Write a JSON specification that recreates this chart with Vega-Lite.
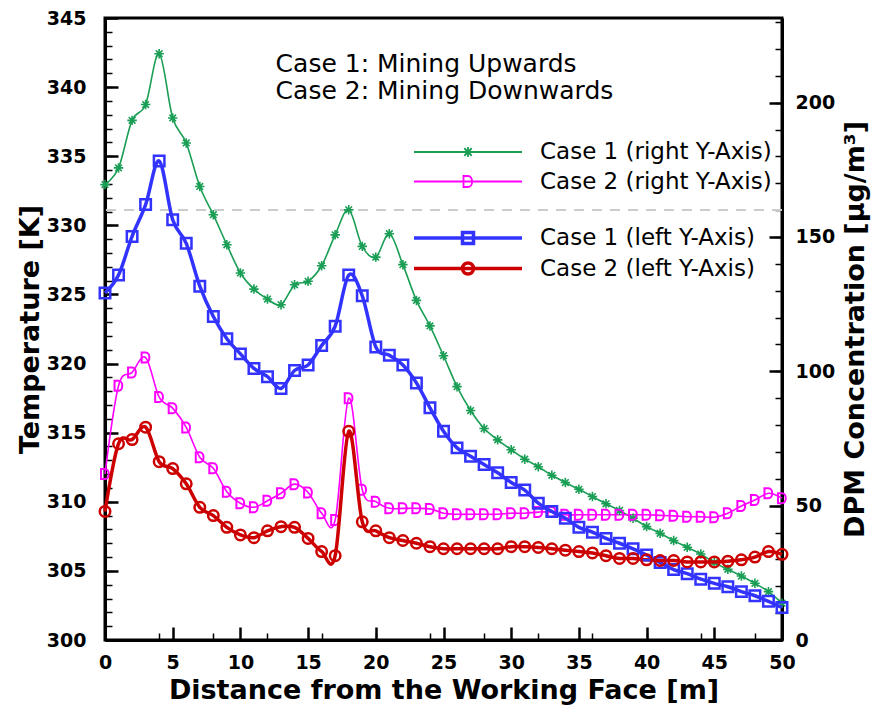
{
  "$schema": "https://vega.github.io/schema/vega-lite/v6.json",
  "width": 677,
  "height": 622,
  "autosize": "none",
  "padding": {"left": 105, "top": 18, "right": 94, "bottom": 69},
  "background": "white",
  "config": {
    "view": {"stroke": "black", "strokeWidth": 3},
    "font": "DejaVu Sans",
    "axis": {
      "grid": false,
      "domainColor": "black",
      "domainWidth": 3,
      "ticks": true,
      "tickColor": "black",
      "labelColor": "black",
      "titleColor": "black",
      "labelFont": "DejaVu Sans",
      "labelFontWeight": "bold",
      "labelFontSize": 19,
      "labelOverlap": false,
      "titleFont": "DejaVu Sans",
      "titleFontWeight": "bold",
      "titleFontSize": 27
    }
  },
  "datasets": {
    "right": [
      {"d": 0, "v": 169.5, "s": "Case 1 (right Y-Axis)"},
      {"d": 1, "v": 175.7, "s": "Case 1 (right Y-Axis)"},
      {"d": 2, "v": 193.4, "s": "Case 1 (right Y-Axis)"},
      {"d": 3, "v": 199.3, "s": "Case 1 (right Y-Axis)"},
      {"d": 4, "v": 218.2, "s": "Case 1 (right Y-Axis)"},
      {"d": 5, "v": 194.3, "s": "Case 1 (right Y-Axis)"},
      {"d": 6, "v": 185.0, "s": "Case 1 (right Y-Axis)"},
      {"d": 7, "v": 168.8, "s": "Case 1 (right Y-Axis)"},
      {"d": 8, "v": 158.3, "s": "Case 1 (right Y-Axis)"},
      {"d": 9, "v": 147.1, "s": "Case 1 (right Y-Axis)"},
      {"d": 10, "v": 136.6, "s": "Case 1 (right Y-Axis)"},
      {"d": 11, "v": 130.6, "s": "Case 1 (right Y-Axis)"},
      {"d": 12, "v": 126.9, "s": "Case 1 (right Y-Axis)"},
      {"d": 13, "v": 124.8, "s": "Case 1 (right Y-Axis)"},
      {"d": 14, "v": 132.2, "s": "Case 1 (right Y-Axis)"},
      {"d": 15, "v": 133.5, "s": "Case 1 (right Y-Axis)"},
      {"d": 16, "v": 139.3, "s": "Case 1 (right Y-Axis)"},
      {"d": 17, "v": 150.8, "s": "Case 1 (right Y-Axis)"},
      {"d": 18, "v": 160.1, "s": "Case 1 (right Y-Axis)"},
      {"d": 19, "v": 146.5, "s": "Case 1 (right Y-Axis)"},
      {"d": 20, "v": 142.5, "s": "Case 1 (right Y-Axis)"},
      {"d": 21, "v": 151.2, "s": "Case 1 (right Y-Axis)"},
      {"d": 22, "v": 139.7, "s": "Case 1 (right Y-Axis)"},
      {"d": 23, "v": 126.4, "s": "Case 1 (right Y-Axis)"},
      {"d": 24, "v": 116.9, "s": "Case 1 (right Y-Axis)"},
      {"d": 25, "v": 105.8, "s": "Case 1 (right Y-Axis)"},
      {"d": 26, "v": 94.3, "s": "Case 1 (right Y-Axis)"},
      {"d": 27, "v": 85.4, "s": "Case 1 (right Y-Axis)"},
      {"d": 28, "v": 78.7, "s": "Case 1 (right Y-Axis)"},
      {"d": 29, "v": 74.5, "s": "Case 1 (right Y-Axis)"},
      {"d": 30, "v": 70.8, "s": "Case 1 (right Y-Axis)"},
      {"d": 31, "v": 67.3, "s": "Case 1 (right Y-Axis)"},
      {"d": 32, "v": 64.5, "s": "Case 1 (right Y-Axis)"},
      {"d": 33, "v": 61.3, "s": "Case 1 (right Y-Axis)"},
      {"d": 34, "v": 58.6, "s": "Case 1 (right Y-Axis)"},
      {"d": 35, "v": 56.1, "s": "Case 1 (right Y-Axis)"},
      {"d": 36, "v": 53.4, "s": "Case 1 (right Y-Axis)"},
      {"d": 37, "v": 50.7, "s": "Case 1 (right Y-Axis)"},
      {"d": 38, "v": 48.2, "s": "Case 1 (right Y-Axis)"},
      {"d": 39, "v": 45.3, "s": "Case 1 (right Y-Axis)"},
      {"d": 40, "v": 42.2, "s": "Case 1 (right Y-Axis)"},
      {"d": 41, "v": 39.7, "s": "Case 1 (right Y-Axis)"},
      {"d": 42, "v": 37.0, "s": "Case 1 (right Y-Axis)"},
      {"d": 43, "v": 34.5, "s": "Case 1 (right Y-Axis)"},
      {"d": 44, "v": 32.0, "s": "Case 1 (right Y-Axis)"},
      {"d": 45, "v": 28.8, "s": "Case 1 (right Y-Axis)"},
      {"d": 46, "v": 26.3, "s": "Case 1 (right Y-Axis)"},
      {"d": 47, "v": 23.8, "s": "Case 1 (right Y-Axis)"},
      {"d": 48, "v": 21.1, "s": "Case 1 (right Y-Axis)"},
      {"d": 49, "v": 18.0, "s": "Case 1 (right Y-Axis)"},
      {"d": 50, "v": 13.7, "s": "Case 1 (right Y-Axis)"},
      {"d": 0, "v": 61.8, "s": "Case 2 (right Y-Axis)"},
      {"d": 1, "v": 94.6, "s": "Case 2 (right Y-Axis)"},
      {"d": 2, "v": 99.6, "s": "Case 2 (right Y-Axis)"},
      {"d": 3, "v": 105.1, "s": "Case 2 (right Y-Axis)"},
      {"d": 4, "v": 90.4, "s": "Case 2 (right Y-Axis)"},
      {"d": 5, "v": 86.3, "s": "Case 2 (right Y-Axis)"},
      {"d": 6, "v": 79.1, "s": "Case 2 (right Y-Axis)"},
      {"d": 7, "v": 68.0, "s": "Case 2 (right Y-Axis)"},
      {"d": 8, "v": 63.9, "s": "Case 2 (right Y-Axis)"},
      {"d": 9, "v": 55.2, "s": "Case 2 (right Y-Axis)"},
      {"d": 10, "v": 50.9, "s": "Case 2 (right Y-Axis)"},
      {"d": 11, "v": 49.4, "s": "Case 2 (right Y-Axis)"},
      {"d": 12, "v": 51.8, "s": "Case 2 (right Y-Axis)"},
      {"d": 13, "v": 54.6, "s": "Case 2 (right Y-Axis)"},
      {"d": 14, "v": 58.0, "s": "Case 2 (right Y-Axis)"},
      {"d": 15, "v": 54.9, "s": "Case 2 (right Y-Axis)"},
      {"d": 16, "v": 47.2, "s": "Case 2 (right Y-Axis)"},
      {"d": 17, "v": 44.7, "s": "Case 2 (right Y-Axis)"},
      {"d": 18, "v": 90.0, "s": "Case 2 (right Y-Axis)"},
      {"d": 19, "v": 55.9, "s": "Case 2 (right Y-Axis)"},
      {"d": 20, "v": 51.5, "s": "Case 2 (right Y-Axis)"},
      {"d": 21, "v": 49.0, "s": "Case 2 (right Y-Axis)"},
      {"d": 22, "v": 49.0, "s": "Case 2 (right Y-Axis)"},
      {"d": 23, "v": 49.0, "s": "Case 2 (right Y-Axis)"},
      {"d": 24, "v": 48.8, "s": "Case 2 (right Y-Axis)"},
      {"d": 25, "v": 47.2, "s": "Case 2 (right Y-Axis)"},
      {"d": 26, "v": 46.8, "s": "Case 2 (right Y-Axis)"},
      {"d": 27, "v": 46.8, "s": "Case 2 (right Y-Axis)"},
      {"d": 28, "v": 46.8, "s": "Case 2 (right Y-Axis)"},
      {"d": 29, "v": 46.8, "s": "Case 2 (right Y-Axis)"},
      {"d": 30, "v": 47.2, "s": "Case 2 (right Y-Axis)"},
      {"d": 31, "v": 47.2, "s": "Case 2 (right Y-Axis)"},
      {"d": 32, "v": 47.6, "s": "Case 2 (right Y-Axis)"},
      {"d": 33, "v": 47.6, "s": "Case 2 (right Y-Axis)"},
      {"d": 34, "v": 46.6, "s": "Case 2 (right Y-Axis)"},
      {"d": 35, "v": 46.6, "s": "Case 2 (right Y-Axis)"},
      {"d": 36, "v": 46.6, "s": "Case 2 (right Y-Axis)"},
      {"d": 37, "v": 46.6, "s": "Case 2 (right Y-Axis)"},
      {"d": 38, "v": 46.6, "s": "Case 2 (right Y-Axis)"},
      {"d": 39, "v": 46.6, "s": "Case 2 (right Y-Axis)"},
      {"d": 40, "v": 46.6, "s": "Case 2 (right Y-Axis)"},
      {"d": 41, "v": 46.4, "s": "Case 2 (right Y-Axis)"},
      {"d": 42, "v": 46.2, "s": "Case 2 (right Y-Axis)"},
      {"d": 43, "v": 45.9, "s": "Case 2 (right Y-Axis)"},
      {"d": 44, "v": 45.9, "s": "Case 2 (right Y-Axis)"},
      {"d": 45, "v": 45.7, "s": "Case 2 (right Y-Axis)"},
      {"d": 46, "v": 47.2, "s": "Case 2 (right Y-Axis)"},
      {"d": 47, "v": 49.9, "s": "Case 2 (right Y-Axis)"},
      {"d": 48, "v": 52.1, "s": "Case 2 (right Y-Axis)"},
      {"d": 49, "v": 54.6, "s": "Case 2 (right Y-Axis)"},
      {"d": 50, "v": 52.8, "s": "Case 2 (right Y-Axis)"}
    ],
    "left": [
      {"d": 0, "t": 325.1, "s": "Case 1 (left Y-Axis)"},
      {"d": 1, "t": 326.4, "s": "Case 1 (left Y-Axis)"},
      {"d": 2, "t": 329.2, "s": "Case 1 (left Y-Axis)"},
      {"d": 3, "t": 331.5, "s": "Case 1 (left Y-Axis)"},
      {"d": 4, "t": 334.65, "s": "Case 1 (left Y-Axis)"},
      {"d": 5, "t": 330.4, "s": "Case 1 (left Y-Axis)"},
      {"d": 6, "t": 328.7, "s": "Case 1 (left Y-Axis)"},
      {"d": 7, "t": 325.6, "s": "Case 1 (left Y-Axis)"},
      {"d": 8, "t": 323.4, "s": "Case 1 (left Y-Axis)"},
      {"d": 9, "t": 321.8, "s": "Case 1 (left Y-Axis)"},
      {"d": 10, "t": 320.7, "s": "Case 1 (left Y-Axis)"},
      {"d": 11, "t": 319.65, "s": "Case 1 (left Y-Axis)"},
      {"d": 12, "t": 319.05, "s": "Case 1 (left Y-Axis)"},
      {"d": 13, "t": 318.2, "s": "Case 1 (left Y-Axis)"},
      {"d": 14, "t": 319.5, "s": "Case 1 (left Y-Axis)"},
      {"d": 15, "t": 319.9, "s": "Case 1 (left Y-Axis)"},
      {"d": 16, "t": 321.3, "s": "Case 1 (left Y-Axis)"},
      {"d": 17, "t": 322.7, "s": "Case 1 (left Y-Axis)"},
      {"d": 18, "t": 326.4, "s": "Case 1 (left Y-Axis)"},
      {"d": 19, "t": 324.9, "s": "Case 1 (left Y-Axis)"},
      {"d": 20, "t": 321.2, "s": "Case 1 (left Y-Axis)"},
      {"d": 21, "t": 320.6, "s": "Case 1 (left Y-Axis)"},
      {"d": 22, "t": 319.9, "s": "Case 1 (left Y-Axis)"},
      {"d": 23, "t": 318.6, "s": "Case 1 (left Y-Axis)"},
      {"d": 24, "t": 316.8, "s": "Case 1 (left Y-Axis)"},
      {"d": 25, "t": 315.1, "s": "Case 1 (left Y-Axis)"},
      {"d": 26, "t": 313.9, "s": "Case 1 (left Y-Axis)"},
      {"d": 27, "t": 313.3, "s": "Case 1 (left Y-Axis)"},
      {"d": 28, "t": 312.7, "s": "Case 1 (left Y-Axis)"},
      {"d": 29, "t": 312.1, "s": "Case 1 (left Y-Axis)"},
      {"d": 30, "t": 311.4, "s": "Case 1 (left Y-Axis)"},
      {"d": 31, "t": 310.85, "s": "Case 1 (left Y-Axis)"},
      {"d": 32, "t": 309.9, "s": "Case 1 (left Y-Axis)"},
      {"d": 33, "t": 309.3, "s": "Case 1 (left Y-Axis)"},
      {"d": 34, "t": 308.8, "s": "Case 1 (left Y-Axis)"},
      {"d": 35, "t": 308.15, "s": "Case 1 (left Y-Axis)"},
      {"d": 36, "t": 307.8, "s": "Case 1 (left Y-Axis)"},
      {"d": 37, "t": 307.35, "s": "Case 1 (left Y-Axis)"},
      {"d": 38, "t": 307.0, "s": "Case 1 (left Y-Axis)"},
      {"d": 39, "t": 306.6, "s": "Case 1 (left Y-Axis)"},
      {"d": 40, "t": 306.15, "s": "Case 1 (left Y-Axis)"},
      {"d": 41, "t": 305.6, "s": "Case 1 (left Y-Axis)"},
      {"d": 42, "t": 305.1, "s": "Case 1 (left Y-Axis)"},
      {"d": 43, "t": 304.8, "s": "Case 1 (left Y-Axis)"},
      {"d": 44, "t": 304.4, "s": "Case 1 (left Y-Axis)"},
      {"d": 45, "t": 304.1, "s": "Case 1 (left Y-Axis)"},
      {"d": 46, "t": 303.85, "s": "Case 1 (left Y-Axis)"},
      {"d": 47, "t": 303.5, "s": "Case 1 (left Y-Axis)"},
      {"d": 48, "t": 303.2, "s": "Case 1 (left Y-Axis)"},
      {"d": 49, "t": 302.8, "s": "Case 1 (left Y-Axis)"},
      {"d": 50, "t": 302.35, "s": "Case 1 (left Y-Axis)"},
      {"d": 0, "t": 309.3, "s": "Case 2 (left Y-Axis)"},
      {"d": 1, "t": 314.2, "s": "Case 2 (left Y-Axis)"},
      {"d": 2, "t": 314.5, "s": "Case 2 (left Y-Axis)"},
      {"d": 3, "t": 315.4, "s": "Case 2 (left Y-Axis)"},
      {"d": 4, "t": 312.9, "s": "Case 2 (left Y-Axis)"},
      {"d": 5, "t": 312.4, "s": "Case 2 (left Y-Axis)"},
      {"d": 6, "t": 311.3, "s": "Case 2 (left Y-Axis)"},
      {"d": 7, "t": 309.6, "s": "Case 2 (left Y-Axis)"},
      {"d": 8, "t": 309.0, "s": "Case 2 (left Y-Axis)"},
      {"d": 9, "t": 308.15, "s": "Case 2 (left Y-Axis)"},
      {"d": 10, "t": 307.6, "s": "Case 2 (left Y-Axis)"},
      {"d": 11, "t": 307.4, "s": "Case 2 (left Y-Axis)"},
      {"d": 12, "t": 307.9, "s": "Case 2 (left Y-Axis)"},
      {"d": 13, "t": 308.2, "s": "Case 2 (left Y-Axis)"},
      {"d": 14, "t": 308.15, "s": "Case 2 (left Y-Axis)"},
      {"d": 15, "t": 307.35, "s": "Case 2 (left Y-Axis)"},
      {"d": 16, "t": 306.4, "s": "Case 2 (left Y-Axis)"},
      {"d": 17, "t": 306.1, "s": "Case 2 (left Y-Axis)"},
      {"d": 18, "t": 315.1, "s": "Case 2 (left Y-Axis)"},
      {"d": 19, "t": 308.55, "s": "Case 2 (left Y-Axis)"},
      {"d": 20, "t": 307.9, "s": "Case 2 (left Y-Axis)"},
      {"d": 21, "t": 307.4, "s": "Case 2 (left Y-Axis)"},
      {"d": 22, "t": 307.2, "s": "Case 2 (left Y-Axis)"},
      {"d": 23, "t": 307.0, "s": "Case 2 (left Y-Axis)"},
      {"d": 24, "t": 306.75, "s": "Case 2 (left Y-Axis)"},
      {"d": 25, "t": 306.6, "s": "Case 2 (left Y-Axis)"},
      {"d": 26, "t": 306.6, "s": "Case 2 (left Y-Axis)"},
      {"d": 27, "t": 306.6, "s": "Case 2 (left Y-Axis)"},
      {"d": 28, "t": 306.6, "s": "Case 2 (left Y-Axis)"},
      {"d": 29, "t": 306.6, "s": "Case 2 (left Y-Axis)"},
      {"d": 30, "t": 306.75, "s": "Case 2 (left Y-Axis)"},
      {"d": 31, "t": 306.75, "s": "Case 2 (left Y-Axis)"},
      {"d": 32, "t": 306.7, "s": "Case 2 (left Y-Axis)"},
      {"d": 33, "t": 306.6, "s": "Case 2 (left Y-Axis)"},
      {"d": 34, "t": 306.5, "s": "Case 2 (left Y-Axis)"},
      {"d": 35, "t": 306.4, "s": "Case 2 (left Y-Axis)"},
      {"d": 36, "t": 306.3, "s": "Case 2 (left Y-Axis)"},
      {"d": 37, "t": 306.1, "s": "Case 2 (left Y-Axis)"},
      {"d": 38, "t": 305.9, "s": "Case 2 (left Y-Axis)"},
      {"d": 39, "t": 305.9, "s": "Case 2 (left Y-Axis)"},
      {"d": 40, "t": 305.8, "s": "Case 2 (left Y-Axis)"},
      {"d": 41, "t": 305.75, "s": "Case 2 (left Y-Axis)"},
      {"d": 42, "t": 305.75, "s": "Case 2 (left Y-Axis)"},
      {"d": 43, "t": 305.65, "s": "Case 2 (left Y-Axis)"},
      {"d": 44, "t": 305.65, "s": "Case 2 (left Y-Axis)"},
      {"d": 45, "t": 305.65, "s": "Case 2 (left Y-Axis)"},
      {"d": 46, "t": 305.7, "s": "Case 2 (left Y-Axis)"},
      {"d": 47, "t": 305.8, "s": "Case 2 (left Y-Axis)"},
      {"d": 48, "t": 306.0, "s": "Case 2 (left Y-Axis)"},
      {"d": 49, "t": 306.4, "s": "Case 2 (left Y-Axis)"},
      {"d": 50, "t": 306.2, "s": "Case 2 (left Y-Axis)"}
    ],
    "notes": [
      {"d": 12.6, "t": 341.65, "label": "Case 1: Mining Upwards"},
      {"d": 12.6, "t": 339.75, "label": "Case 2: Mining Downwards"}
    ]
  },
  "resolve": {"scale": {"y": "independent", "color": "independent"}, "axis": {"x": "independent"}},
  "layer": [
    {
      "resolve": {"axis": {"y": "independent"}},
      "layer": [
        {
          "data": {"values": [{"limit": 160}]},
          "mark": {"type": "rule", "color": "#cccccc", "strokeWidth": 2, "strokeDash": [10, 8]},
          "encoding": {"y": {"field": "limit", "type": "quantitative", "scale": {"domain": [0, 231.5], "nice": false}, "axis": null}}
        },
        {
          "data": {"name": "right"},
          "mark": {"type": "line", "interpolate": "cardinal", "tension": 0, "strokeWidth": 1.6},
          "encoding": {
            "x": {"field": "d", "type": "quantitative", "scale": {"domain": [0, 50], "nice": false, "zero": false},
              "axis": {"orient": "bottom", "values": [0,1,2,3,4,5,6,7,8,9,10,11,12,13,14,15,16,17,18,19,20,21,22,23,24,25,26,27,28,29,30,31,32,33,34,35,36,37,38,39,40,41,42,43,44,45,46,47,48,49,50],
                "tickSize": -7, "tickWidth": 1.5, "labels": false, "domain": false, "title": null}},
            "y": {"field": "v", "type": "quantitative", "title": "DPM Concentration [µg/m³]",
              "axis": {"orient": "right", "values": [0, 50, 100, 150, 200],
                "tickSize": -13, "tickWidth": 2.5, "labelOverlap": false,
                "labelPadding": 26, "titleX": 73, "titleAngle": 270, "titleBaseline": "middle"}},
            "color": {"field": "s", "type": "nominal",
              "scale": {"domain": ["Case 1 (right Y-Axis)", "Case 2 (right Y-Axis)"], "range": ["#1a9e55", "#ff00ff"]},
              "legend": {
                "title": null, "orient": "none", "legendX": 351.5, "legendY": 122.5, "padding": 0,
                "rowPadding": 5.5, "labelOffset": 60.5, "symbolOffset": 0,
                "labelFont": "DejaVu Sans", "labelFontSize": 23, "labelColor": "black", "labelLimit": 400,
                "symbolSize": 100, "symbolStrokeWidth": 1.6,
                "encode": {"symbols": {"update": {
                  "shape": {"signal": "datum.value === 'Case 1 (right Y-Axis)' ? 'M-10.8,0L10.8,0M0,-1L0,1M-0.75,-0.75L0.75,0.75M-0.75,0.75L0.75,-0.75' : 'M-10.8,0L10.8,0M-0.9,-1.1L0,-1.1C1.1,-1.1 1.1,1.1 0,1.1L-0.9,1.1Z'"},
                  "size": {"value": 100},
                  "strokeWidth": {"value": 1.8},
                  "fill": {"value": "transparent"}
                }}}
              }
            }
          }
        },
        {
          "data": {"name": "right"},
          "transform": [{"filter": "datum.s === 'Case 1 (right Y-Axis)'"}],
          "mark": {"type": "point", "filled": false, "strokeWidth": 1.6, "size": 90, "opacity": 1,
                   "shape": "M0,-1L0,1M-1,0L1,0M-0.7,-0.7L0.7,0.7M-0.7,0.7L0.7,-0.7"},
          "encoding": {
            "x": {"field": "d", "type": "quantitative"},
            "y": {"field": "v", "type": "quantitative",
              "axis": {"orient": "right", "values": [0,10,20,30,40,50,60,70,80,90,100,110,120,130,140,150,160,170,180,190,200,210,220,230],
                "tickSize": -7, "tickWidth": 1.5, "labels": false, "domain": false, "title": null}},
            "color": {"field": "s", "type": "nominal"}
          }
        },
        {
          "data": {"name": "right"},
          "transform": [{"filter": "datum.s === 'Case 2 (right Y-Axis)'"}],
          "mark": {"type": "point", "filled": false, "strokeWidth": 2, "size": 100, "opacity": 1,
                   "shape": "M-0.8,-1L0,-1C1,-1 1,1 0,1L-0.8,1Z"},
          "encoding": {
            "x": {"field": "d", "type": "quantitative"},
            "y": {"field": "v", "type": "quantitative", "axis": null},
            "color": {"field": "s", "type": "nominal"}
          }
        }
      ]
    },
    {
      "resolve": {"axis": {"y": "independent"}},
      "layer": [
        {
          "data": {"name": "left"},
          "mark": {"type": "line", "interpolate": "cardinal", "tension": 0, "strokeWidth": 3.5},
          "encoding": {
            "x": {"field": "d", "type": "quantitative", "title": "Distance from the Working Face [m]",
              "scale": {"domain": [0, 50], "nice": false, "zero": false},
              "axis": {"orient": "bottom", "values": [0,5,10,15,20,25,30,35,40,45,50],
                "tickSize": -13, "tickWidth": 2.5, "labelOverlap": false,
                "labelPadding": 26, "labelFlush": false, "titleY": 50, "titleBaseline": "middle"}},
            "y": {"field": "t", "type": "quantitative", "title": "Temperature [K]",
              "scale": {"domain": [300, 345], "nice": false, "zero": false},
              "axis": {"orient": "left", "values": [300,305,310,315,320,325,330,335,340,345],
                "tickSize": -13, "tickWidth": 2.5, "labelOverlap": false,
                "labelPadding": 32, "labelFlush": false, "titleX": -75, "titleBaseline": "middle"}},
            "color": {"field": "s", "type": "nominal",
              "scale": {"domain": ["Case 1 (left Y-Axis)", "Case 2 (left Y-Axis)"], "range": ["#3333ff", "#cc0000"]},
              "legend": {
                "title": null, "orient": "none", "legendX": 351.5, "legendY": 208.5, "padding": 0,
                "rowPadding": 5.5, "labelOffset": 60.5, "symbolOffset": 0,
                "labelFont": "DejaVu Sans", "labelFontSize": 23, "labelColor": "black", "labelLimit": 400,
                "symbolSize": 100, "symbolStrokeWidth": 3,
                "encode": {"symbols": {"update": {
                  "shape": {"signal": "datum.value === 'Case 1 (left Y-Axis)' ? 'M-10.8,0L10.8,0M-1.1,-1.1L1.1,-1.1L1.1,1.1L-1.1,1.1Z' : 'M-10.8,0L10.8,0M1.1,0A1.1,1.1 0 1 1 -1.1,0A1.1,1.1 0 1 1 1.1,0Z'"},
                  "size": {"value": 100},
                  "strokeWidth": {"value": 3.5},
                  "fill": {"value": "transparent"}
                }}}
              }
            }
          }
        },
        {
          "data": {"name": "left"},
          "transform": [{"filter": "datum.s === 'Case 1 (left Y-Axis)'"}],
          "mark": {"type": "point", "filled": false, "strokeWidth": 2.5, "size": 110, "opacity": 1, "shape": "square"},
          "encoding": {
            "x": {"field": "d", "type": "quantitative"},
            "y": {"field": "t", "type": "quantitative",
              "axis": {"orient": "left", "values": [300,301,302,303,304,305,306,307,308,309,310,311,312,313,314,315,316,317,318,319,320,321,322,323,324,325,326,327,328,329,330,331,332,333,334,335,336,337,338,339,340,341,342,343,344,345],
                "tickSize": -7, "tickWidth": 1.5, "labels": false, "domain": false, "title": null}},
            "color": {"field": "s", "type": "nominal"}
          }
        },
        {
          "data": {"name": "left"},
          "transform": [{"filter": "datum.s === 'Case 2 (left Y-Axis)'"}],
          "mark": {"type": "point", "filled": false, "strokeWidth": 2.5, "size": 110, "opacity": 1, "shape": "circle"},
          "encoding": {
            "x": {"field": "d", "type": "quantitative"},
            "y": {"field": "t", "type": "quantitative", "axis": null},
            "color": {"field": "s", "type": "nominal"}
          }
        },
        {
          "data": {"name": "notes"},
          "mark": {"type": "text", "align": "left", "baseline": "middle", "font": "DejaVu Sans", "fontSize": 25, "color": "black"},
          "encoding": {
            "x": {"field": "d", "type": "quantitative"},
            "y": {"field": "t", "type": "quantitative", "axis": null},
            "text": {"field": "label"}
          }
        }
      ]
    }
  ]
}
